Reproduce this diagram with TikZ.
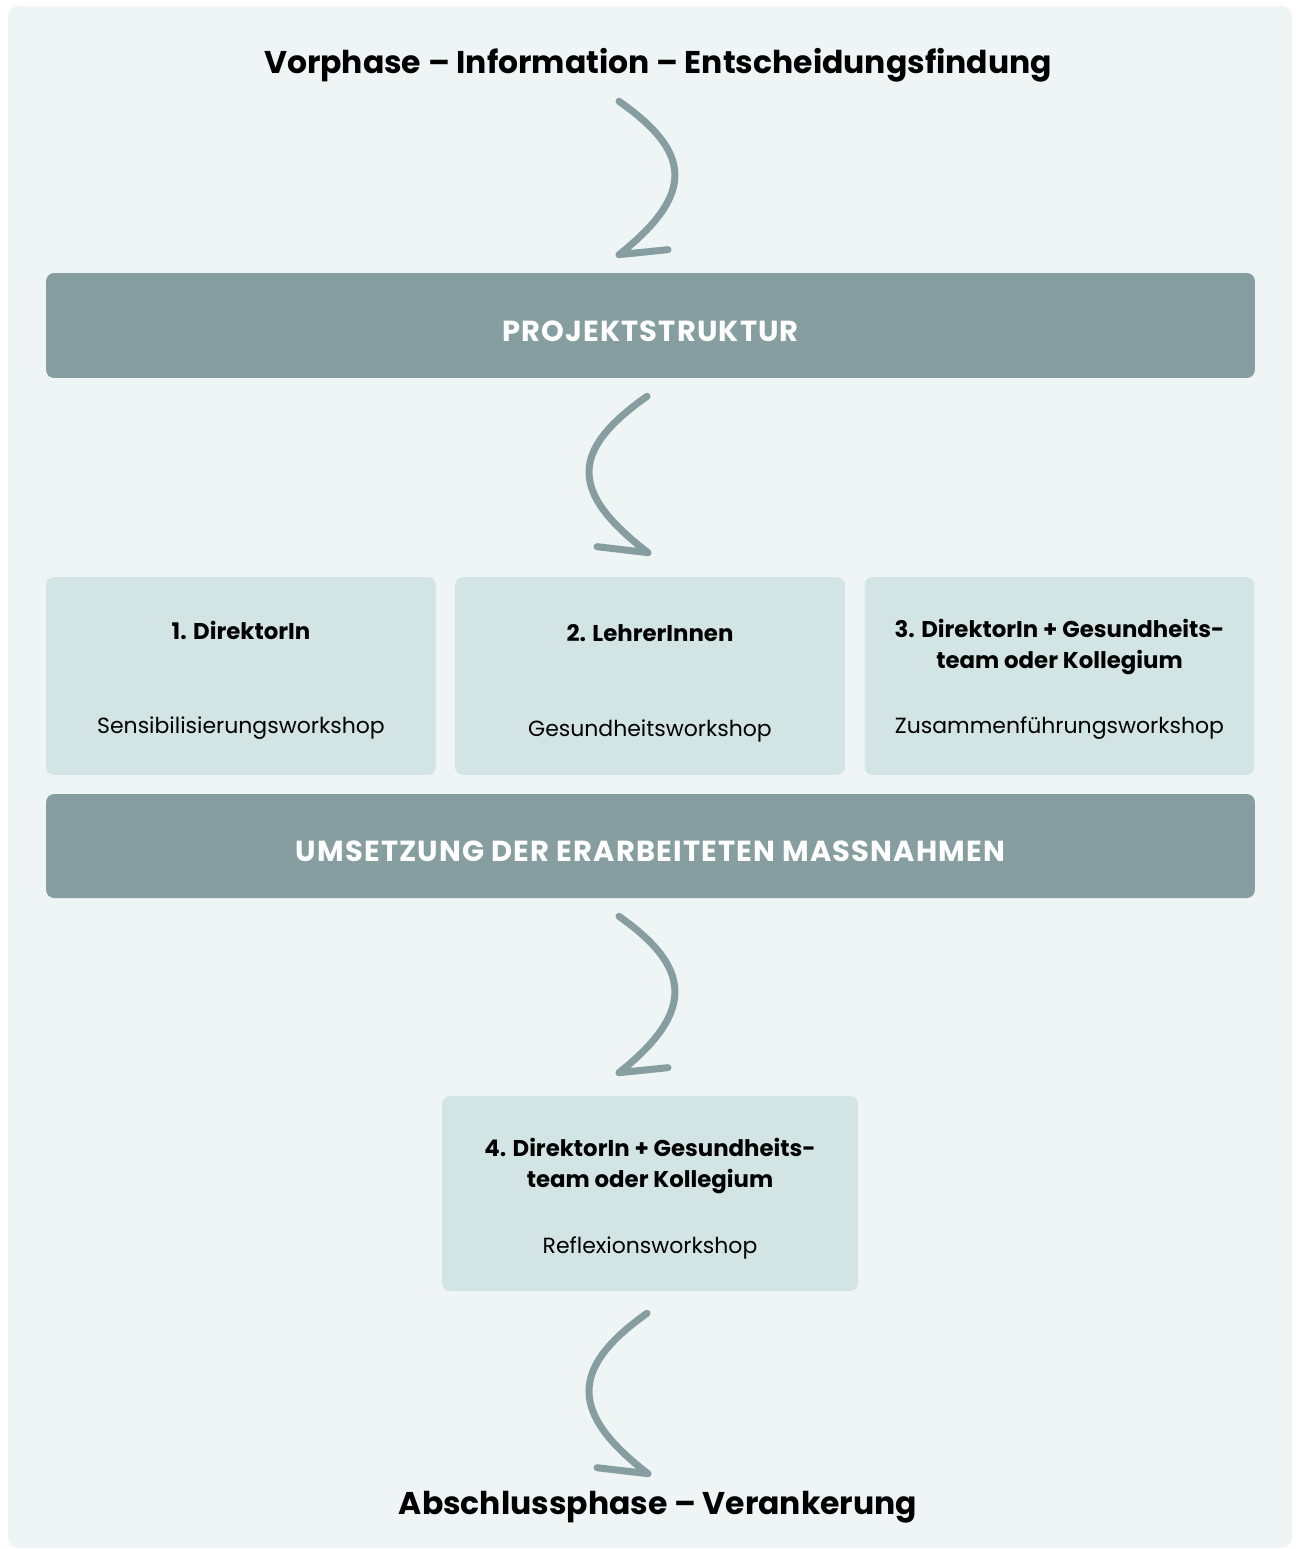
\documentclass[tikz,border=0pt]{standalone}
\usepackage{fontspec}
\setmainfont{Poppins}
\usepackage{xcolor}
\usetikzlibrary{positioning,calc}
\definecolor{panelgray}{HTML}{EFF5F5}
\definecolor{boxgray}{HTML}{D3E4E4}
\definecolor{bargray}{HTML}{869EA0}

\begin{document}
\begin{tikzpicture}[x=0.02cm, y=-0.02cm,
        bar/.style={fill=bargray, rounded corners=0.16cm, minimum width=24.18cm, minimum height=2.1cm,
            text height=0.62cm, text depth=0pt,
            text=white, font=\bfseries\fontsize{16.5}{20}\selectfont\addfontfeatures{LetterSpace=4}},
        stepbox/.style={fill=boxgray, rounded corners=0.16cm, minimum width=7.8cm, minimum height=3.96cm},
        heading/.style={font=\bfseries\fontsize{13}{18}\selectfont, align=center, inner sep=0pt},
        workshop/.style={font=\fontsize{12.5}{18}\selectfont, inner sep=0pt},
        phase/.style={font=\bfseries\fontsize{17.9}{22}\selectfont, inner sep=0pt},
        curl/.style={draw=bargray, line width=4pt, line cap=round, line join=round}]

        \useasboundingbox (0,0) rectangle (1296,1549);
        \fill[panelgray, rounded corners=0.2cm] (8,6) rectangle (1292,1548); % Panel

        % Phases and bars
        \node[phase] (vorphase) at (658,65) {Vorphase – Information – Entscheidungsfindung};
        \node[bar] (struktur) at (650.5,325.5) {PROJEKTSTRUKTUR};
        \node[bar, minimum height=2.08cm] (umsetzung) at (650.5,846) {UMSETZUNG DER ERARBEITETEN MASSNAHMEN};
        \node[phase] (abschluss) at (658,1507) {Abschlussphase – Verankerung};

        % Workshops
        \node[stepbox] (ws1) at (241,676) {};
        \node[stepbox] (ws2) at (650,676) {};
        \node[stepbox] (ws3) at (1059.5,676) {};
        \node[stepbox, minimum width=8.32cm, minimum height=3.9cm] (ws4) at (650,1193.5) {};

        \node[heading] (ws1-head) at (241,630) {1. DirektorIn};
        \node[workshop] (ws1-name) at (241,728) {Sensibilisierungsworkshop};
        \node[heading] (ws2-head) at (650,633) {2. LehrerInnen};
        \node[workshop] (ws2-name) at (650,731) {Gesundheitsworkshop};
        \node[heading] (ws3-head) at (1059.5,647) {3. DirektorIn + Gesundheits-\\team oder Kollegium};
        \node[workshop] (ws3-name) at (1059.5,728) {Zusammenführungsworkshop};
        \node[heading] (ws4-head) at (650,1166) {4. DirektorIn + Gesundheits-\\team oder Kollegium};
        \node[workshop] (ws4-name) at (650,1248) {Reflexionsworkshop};

        % Arrow ends
        \coordinate (a1-start) at ($(vorphase.south)+(-39,19)$);
        \coordinate (a1-tip) at ($(struktur.north)+(-31.5,-18)$);
        \coordinate (a2-start) at ($(struktur.south)+(-3.5,18)$);
        \coordinate (a2-tip) at ($(ws2.north)+(-2,-24)$);
        \coordinate (a3-start) at ($(umsetzung.south)+(-31.5,18)$);
        \coordinate (a3-tip) at ($(ws4.north)+(-31,-23)$);
        \coordinate (a4-start) at ($(ws4.south)+(-3,22)$);
        \coordinate (a4-tip) at ($(abschluss.north)+(-10,-17)$);

        % Arrows
        \draw[curl] (a1-start) .. controls +(71,50) and +(78,-62) .. (a1-tip) -- +(49,-5);
        \draw[curl] (a2-start) .. controls +(-78,55) and +(-78,-60) .. (a2-tip) -- +(-51,-6);
        \draw[curl] (a3-start) .. controls +(71,50) and +(78,-62) .. (a3-tip) -- +(49,-5);
        \draw[curl] (a4-start) .. controls +(-78,55) and +(-78,-60) .. (a4-tip) -- +(-51,-6);
    \end{tikzpicture}
\end{document}
